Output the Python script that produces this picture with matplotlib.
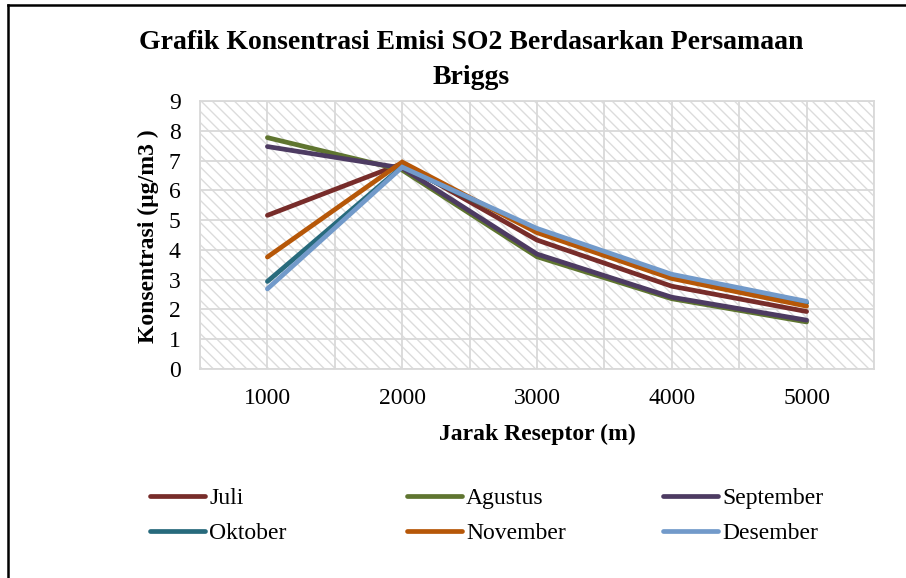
import numpy as np
import matplotlib
matplotlib.use("Agg")
import matplotlib.pyplot as plt
from matplotlib.lines import Line2D

# data
jarak = [1000, 2000, 3000, 4000, 5000]
bulan = ["Juli", "Agustus", "September", "Oktober", "November", "Desember"]
juli = [5.16, 6.90, 4.33, 2.78, 1.93]
agustus = [7.77, 6.68, 3.77, 2.36, 1.58]
september = [7.47, 6.75, 3.86, 2.41, 1.64]
oktober = [2.94, 6.80, 4.66, 3.12, 2.22]
november = [3.76, 6.95, 4.58, 3.04, 2.11]
desember = [2.69, 6.78, 4.72, 3.18, 2.27]
warna = ["#772C2A", "#5F7530", "#4D3B62", "#276A7C", "#B65708", "#729ACA"]

plt.rcParams["font.family"] = ["Liberation Serif", "DejaVu Serif"]
plt.rcParams["hatch.linewidth"] = 1.0
plt.rcParams["hatch.color"] = "#DCDCDC"

fig = plt.figure(figsize=(9.06, 5.78), dpi=100)
ax = fig.add_axes([200/906, 1-369/578, 674/906, 268/578])

# hatched plot area like the Excel pattern fill
ax.patch.set_facecolor("white")
ax.patch.set_hatch("\\\\\\")
ax.patch.set_edgecolor("#DCDCDC")

series = [juli, agustus, september, oktober, november, desember]
lines = []
for vals, nama, c in zip(series, bulan, warna):
    ln, = ax.plot(jarak, vals, color=c, lw=3.4, solid_capstyle="round",
                  solid_joinstyle="miter", label=nama, zorder=3)
    lines.append(ln)

ax.set_xlim(500, 5500)
ax.set_ylim(0, 9)
ax.set_xticks(jarak)
ax.set_xticks(np.arange(500, 5501, 500), minor=True)
ax.set_yticks(range(0, 10))
ax.grid(True, which="both", color="#D9D9D9", lw=1.3, zorder=1)
ax.tick_params(which="both", length=0, labelsize=17, colors="black")
ax.tick_params(axis="x", pad=14)
ax.tick_params(axis="y", pad=14)
for s in ax.spines.values():
    s.set_color("#D9D9D9")
    s.set_linewidth(1.3)

ax.set_xlabel("Jarak Reseptor (m)", fontsize=17, fontweight="bold", labelpad=10)
fig.text(148/906, 1-236/578, "Konsentrasi (µg/m3 )", rotation=90, fontsize=17,
         fontweight="bold", ha="center", va="center")

fig.text(471/906, 1-60/578, "Grafik Konsentrasi Emisi SO2 Berdasarkan Persamaan\nBriggs",
         fontsize=20, fontweight="bold", ha="center", va="center", linespacing=1.5)

# legend: three columns of two entries
kolom_x = [150, 407, 663]
for i, x0 in enumerate(kolom_x):
    h = [lines[i], lines[i + 3]]
    fig.legend(h, [l.get_label() for l in h], loc="center left",
               bbox_to_anchor=(x0/906, 1-516/578), frameon=False, fontsize=17,
               handlelength=2.35, handletextpad=0.15, labelspacing=0.58,
               borderpad=0, borderaxespad=0)

# outer chart border (left and top only visible)
fig.add_artist(Line2D([8/906, 8/906], [0, 1-5/578], transform=fig.transFigure,
                      color="black", lw=1.8))
fig.add_artist(Line2D([8/906, 1], [1-5/578, 1-5/578], transform=fig.transFigure,
                      color="black", lw=1.8))

fig.savefig("out.png", dpi=100)
